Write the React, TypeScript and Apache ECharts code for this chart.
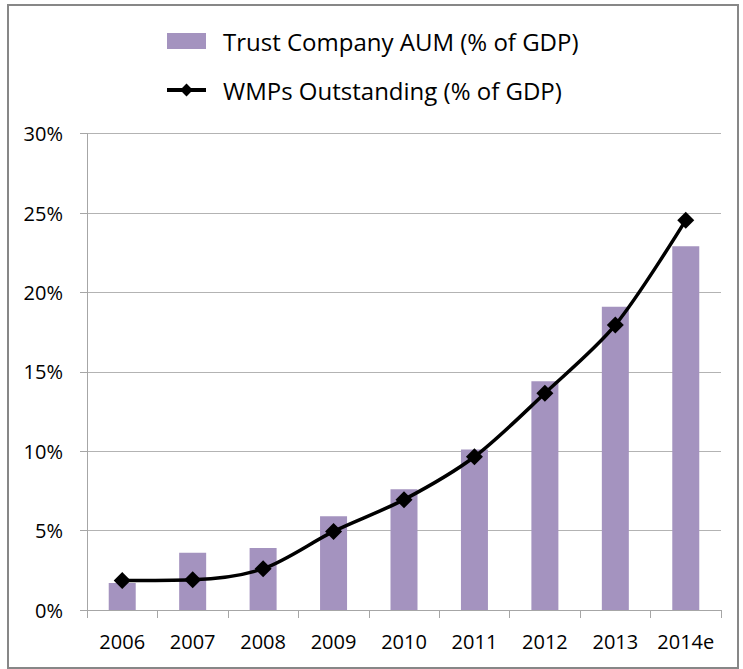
import React, { useEffect, useRef } from "react";
import * as echarts from "echarts";

const categories = ["2006", "2007", "2008", "2009", "2010", "2011", "2012", "2013", "2014e"];
const trustAUM = [1.7, 3.6, 3.9, 5.9, 7.6, 10.1, 14.4, 19.1, 22.9];
const wmpsOutstanding = [1.85, 1.9, 2.6, 4.95, 6.95, 9.65, 13.65, 17.95, 24.55];
const yTicks = { min: 0, max: 30, interval: 5 };

export default function App() {
  const ref = useRef<HTMLDivElement>(null);
  useEffect(() => {
    if (!ref.current) return;
    const chart = echarts.init(ref.current, null, { renderer: "svg" });
    const font = "'Open Sans', Lato, sans-serif";
    chart.setOption({
      animation: false,
      backgroundColor: "#ffffff",
      graphic: [
        {
          type: "rect",
          shape: { x: 8, y: 5, width: 730, height: 663 },
          style: { fill: "none", stroke: "#878787", lineWidth: 2 },
          silent: true,
        },
      ],
      legend: {
        orient: "vertical",
        left: 160,
        top: 24,
        itemWidth: 39,
        itemHeight: 16,
        itemGap: 25,
        textStyle: { fontFamily: font, fontSize: 24, color: "#000", padding: [0, 0, 0, 12] },
        data: [
          { name: "Trust Company AUM (% of GDP)", icon: "rect" },
          { name: "WMPs Outstanding (% of GDP)", lineStyle: { width: 4, color: "#000" } },
        ],
      },
      grid: { left: 87, right: 22, top: 133.6, bottom: 59, containLabel: false },
      xAxis: {
        type: "category",
        data: categories,
        boundaryGap: true,
        axisLine: { lineStyle: { color: "#a6a6a6", width: 1 } },
        axisTick: { show: true, length: 8, lineStyle: { color: "#a6a6a6" } },
        axisLabel: { fontFamily: font, fontSize: 20, color: "#000", margin: 21, interval: 0 },
      },
      yAxis: {
        type: "value",
        min: yTicks.min,
        max: yTicks.max,
        interval: yTicks.interval,
        axisLine: { show: true, lineStyle: { color: "#a6a6a6", width: 1 } },
        axisTick: { show: true, length: 7, lineStyle: { color: "#a6a6a6" } },
        splitLine: { lineStyle: { color: "#b3b3b3", width: 1 } },
        axisLabel: { fontFamily: font, fontSize: 20, color: "#000", margin: 24, formatter: "{value}%" },
      },
      series: [
        {
          name: "Trust Company AUM (% of GDP)",
          type: "bar",
          data: trustAUM,
          barWidth: 27,
          itemStyle: { color: "#a493bf" },
        },
        {
          name: "WMPs Outstanding (% of GDP)",
          type: "line",
          data: wmpsOutstanding,
          smooth: 0.3,
          symbol: "diamond",
          symbolSize: 17,
          lineStyle: { color: "#000", width: 3.5 },
          itemStyle: { color: "#000" },
        },
      ],
    });
    return () => chart.dispose();
  }, []);
  return (
    <div
      ref={ref}
      style={{ position: "absolute", left: 0, top: 0, width: 743, height: 669 }}
    />
  );
}
